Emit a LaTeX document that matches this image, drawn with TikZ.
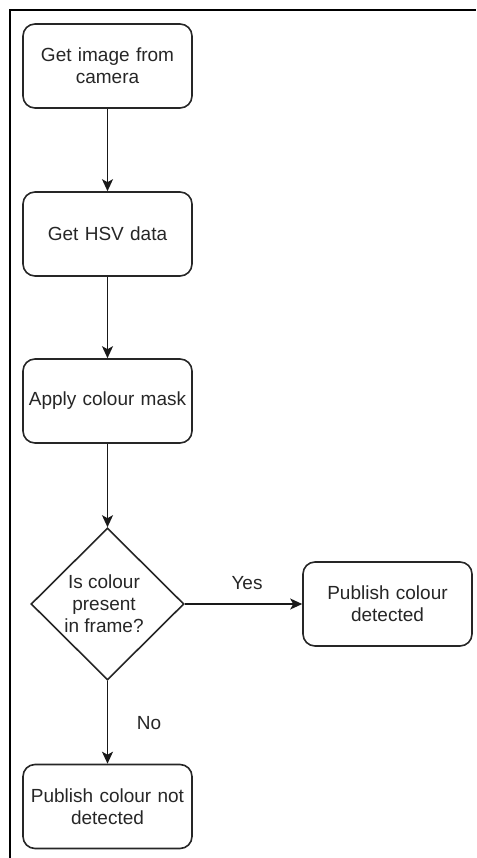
\documentclass[tikz,border=0pt]{standalone}
\usepackage{fontspec}
\setmainfont{Liberation Sans}
\usetikzlibrary{shapes.geometric,arrows.meta}
\begin{document}
\begin{tikzpicture}[x=1pt,y=-1pt,
  every node/.style={font=\fontsize{19}{22}\selectfont, text=black!85},
  procbox/.style={draw=black!85, line width=1.6pt, rounded corners=12pt, minimum width=169pt, minimum height=84pt, align=center, inner sep=2pt, text width=165pt},
  decbox/.style={draw=black!85, line width=1.6pt, diamond, minimum width=153pt, minimum height=152pt, inner sep=0pt, align=center, shape aspect=1},
  conn/.style={draw=black!90, line width=1.6pt, -{Stealth[length=12pt,width=11pt,inset=3pt]}},
  lbl/.style={inner sep=0pt}]
\useasboundingbox (0,0) rectangle (476,858);
\draw[line width=2pt] (10,858) -- (10,10.5) -- (476,10.5);
\node[procbox] (b1) at (107.5,66) {Get image from\\camera};
\node[procbox] (b2) at (107.5,234) {Get HSV data};
\node[procbox] (b3) at (107.5,401) {Apply colour mask};
\node[decbox] (d) at (107.5,604) {};
\node[align=center] (dt) at (104,604) {Is colour\\present\\in frame?};
\node[procbox] (yes) at (387.5,604) {Publish colour\\detected};
\node[procbox] (no) at (107.5,806.5) {Publish colour not\\detected};
\draw[conn] (b1) -- (b2);
\draw[conn] (b2) -- (b3);
\draw[conn] (b3) -- (d.north);
\draw[conn] (d.east) -- (yes.west);
\draw[conn] (d.south) -- (no.north);
\node[lbl] (ly) at (247,583) {Yes};
\node[lbl] (ln) at (149,723) {No};
\end{tikzpicture}
\end{document}
